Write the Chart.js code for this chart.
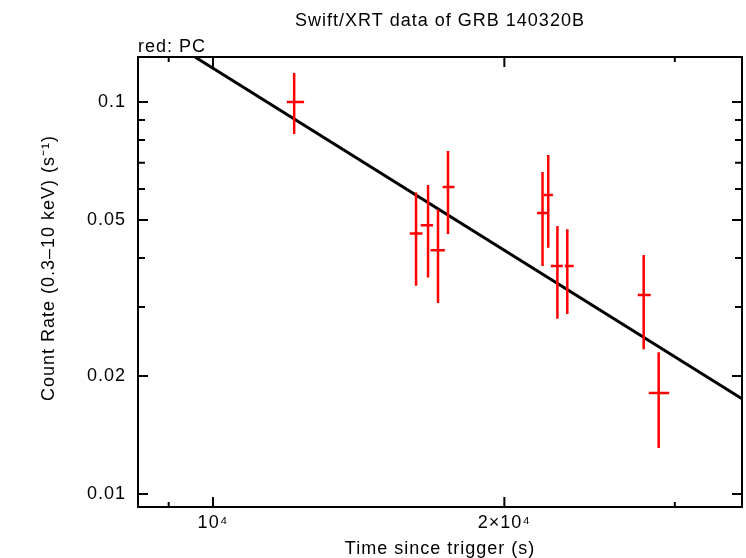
<!DOCTYPE html>
<html>
<head>
<meta charset="utf-8">
<script src="https://cdn.jsdelivr.net/npm/chart.js@4.4.1/dist/chart.umd.min.js"></script>
<style>
  body { margin: 0; background: #fff; }
  #plot { display: block; }
</style>
</head>
<body>
<canvas id="plot" width="746" height="558"></canvas>
<script>
/* data */
const times  = [12130, 16210, 16680, 17080, 17490, 21900, 22200, 22690, 23230, 27860, 28870];
const timeLo = [11920, 15970, 16390, 16780, 17270, 21610, 21960, 22340, 23090, 27470, 28200];
const timeHi = [12420, 16460, 16880, 17360, 17760, 22190, 22450, 22980, 23590, 28330, 29600];
const rates  = [0.100, 0.0462, 0.0485, 0.0419, 0.0607, 0.0521, 0.0579, 0.0382, 0.0382, 0.0322, 0.0181];
const rateLo = [0.0829, 0.0340, 0.0357, 0.0307, 0.0461, 0.0382, 0.0425, 0.0280, 0.0288, 0.0234, 0.0131];
const rateHi = [0.1186, 0.0588, 0.0614, 0.0532, 0.0750, 0.0663, 0.0733, 0.0483, 0.0474, 0.0407, 0.0230];

// power-law fit, end points
const fitTimes = [9580, 35200];
const fitRates = [0.1303, 0.0175];

// ticks
const xTicks = [1e4, 2e4];
const xLabels = ["10\u2074", "2\u00d710\u2074"];
const xMinor = [9000, 3e4];
const yTicks = [0.01, 0.02, 0.05, 0.1];
const yLabels = ["0.01", "0.02", "0.05", "0.1"];
const yMinor = [0.03, 0.04, 0.06, 0.07, 0.08, 0.09];

const FONT = "'Liberation Sans', Arial, sans-serif";

function spacing(chart) {
    chart.ctx.letterSpacing = "1px";
}

/* ===========================================
   error bars, frame, inner ticks, texts
=========================================== */
const gnuPlugin = {
    id: "gnu",
    beforeLayout: spacing,
    beforeDraw: spacing,
    afterDatasetsDraw(chart) {
        const ctx = chart.ctx;
        const x = chart.scales.x, y = chart.scales.y;
        const a = chart.chartArea;
        ctx.save();
        ctx.beginPath();
        ctx.rect(a.left, a.top, a.right - a.left, a.bottom - a.top);
        ctx.clip();
        ctx.strokeStyle = "#ff0000";
        ctx.lineWidth = 2.5;
        times.forEach((t, i) => {
            const px = x.getPixelForValue(t);
            const py = y.getPixelForValue(rates[i]);
            ctx.beginPath();
            ctx.moveTo(px, y.getPixelForValue(rateLo[i]));
            ctx.lineTo(px, y.getPixelForValue(rateHi[i]));
            ctx.moveTo(x.getPixelForValue(timeLo[i]), py);
            ctx.lineTo(x.getPixelForValue(timeHi[i]), py);
            ctx.stroke();
        });
        ctx.restore();
    },
    afterDraw(chart) {
        const ctx = chart.ctx;
        const x = chart.scales.x, y = chart.scales.y;
        const a = chart.chartArea;
        ctx.save();
        ctx.strokeStyle = "#000";
        ctx.lineWidth = 2;
        ctx.strokeRect(a.left, a.top, a.right - a.left, a.bottom - a.top);

        ctx.beginPath();
        const xt = (v, len) => {
            const p = x.getPixelForValue(v);
            ctx.moveTo(p, a.bottom); ctx.lineTo(p, a.bottom - len);
            ctx.moveTo(p, a.top); ctx.lineTo(p, a.top + len);
        };
        const yt = (v, len) => {
            const p = y.getPixelForValue(v);
            ctx.moveTo(a.left, p); ctx.lineTo(a.left + len, p);
            ctx.moveTo(a.right, p); ctx.lineTo(a.right - len, p);
        };
        xTicks.forEach(v => xt(v, 10));
        xMinor.forEach(v => xt(v, 5));
        yTicks.forEach(v => yt(v, 10));
        yMinor.forEach(v => yt(v, 7));
        ctx.stroke();

        ctx.fillStyle = "#000";
        ctx.letterSpacing = "1px";
        ctx.font = "18px " + FONT;
        ctx.textBaseline = "alphabetic";
        ctx.textAlign = "center";
        ctx.fillText("Swift/XRT data of GRB 140320B", (a.left + a.right) / 2, 26);
        ctx.textAlign = "left";
        ctx.fillText("red: PC", a.left, 52);
        ctx.textAlign = "center";
        ctx.fillText("Time since trigger (s)", (a.left + a.right) / 2, 554);

        ctx.translate(54, (a.top + a.bottom) / 2 - 14);
        ctx.rotate(-Math.PI / 2);
        ctx.fillText("Count Rate (0.3\u201310 keV) (s\u207b\u00b9)", 0, 0);
        ctx.restore();
    }
};

new Chart(document.getElementById("plot"), {
    type: "scatter",
    data: {
        datasets: [
            {
                data: times.map((t, i) => ({ x: t, y: rates[i] })),
                pointRadius: 0,
                showLine: false
            },
            {
                data: fitTimes.map((t, i) => ({ x: t, y: fitRates[i] })),
                showLine: true,
                borderColor: "#000",
                borderWidth: 3,
                pointRadius: 0
            }
        ]
    },
    options: {
        responsive: false,
        animation: false,
        devicePixelRatio: 1,
        layout: { padding: { top: 57, right: 4, bottom: 0, left: 0 } },
        plugins: { legend: { display: false }, tooltip: { enabled: false } },
        scales: {
            x: {
                type: "logarithmic",
                min: 8366,
                max: 35200,
                afterFit(s) { s.height = 51; },
                afterBuildTicks(s) { s.ticks = xTicks.map(v => ({ value: v })); },
                grid: { display: false, drawTicks: false },
                border: { display: false },
                ticks: {
                    autoSkip: false,
                    maxRotation: 0,
                    padding: 5,
                    color: "#000",
                    font: { family: FONT, size: 18 },
                    callback: v => xLabels[xTicks.indexOf(v)]
                }
            },
            y: {
                type: "logarithmic",
                min: 0.00927,
                max: 0.1303,
                afterFit(s) { s.width = 138; },
                afterBuildTicks(s) { s.ticks = yTicks.map(v => ({ value: v })); },
                grid: { display: false, drawTicks: false },
                border: { display: false },
                ticks: {
                    autoSkip: false,
                    padding: 12,
                    color: "#000",
                    font: { family: FONT, size: 18 },
                    callback: v => yLabels[yTicks.indexOf(v)]
                }
            }
        }
    },
    plugins: [gnuPlugin]
});
</script>
</body>
</html>
